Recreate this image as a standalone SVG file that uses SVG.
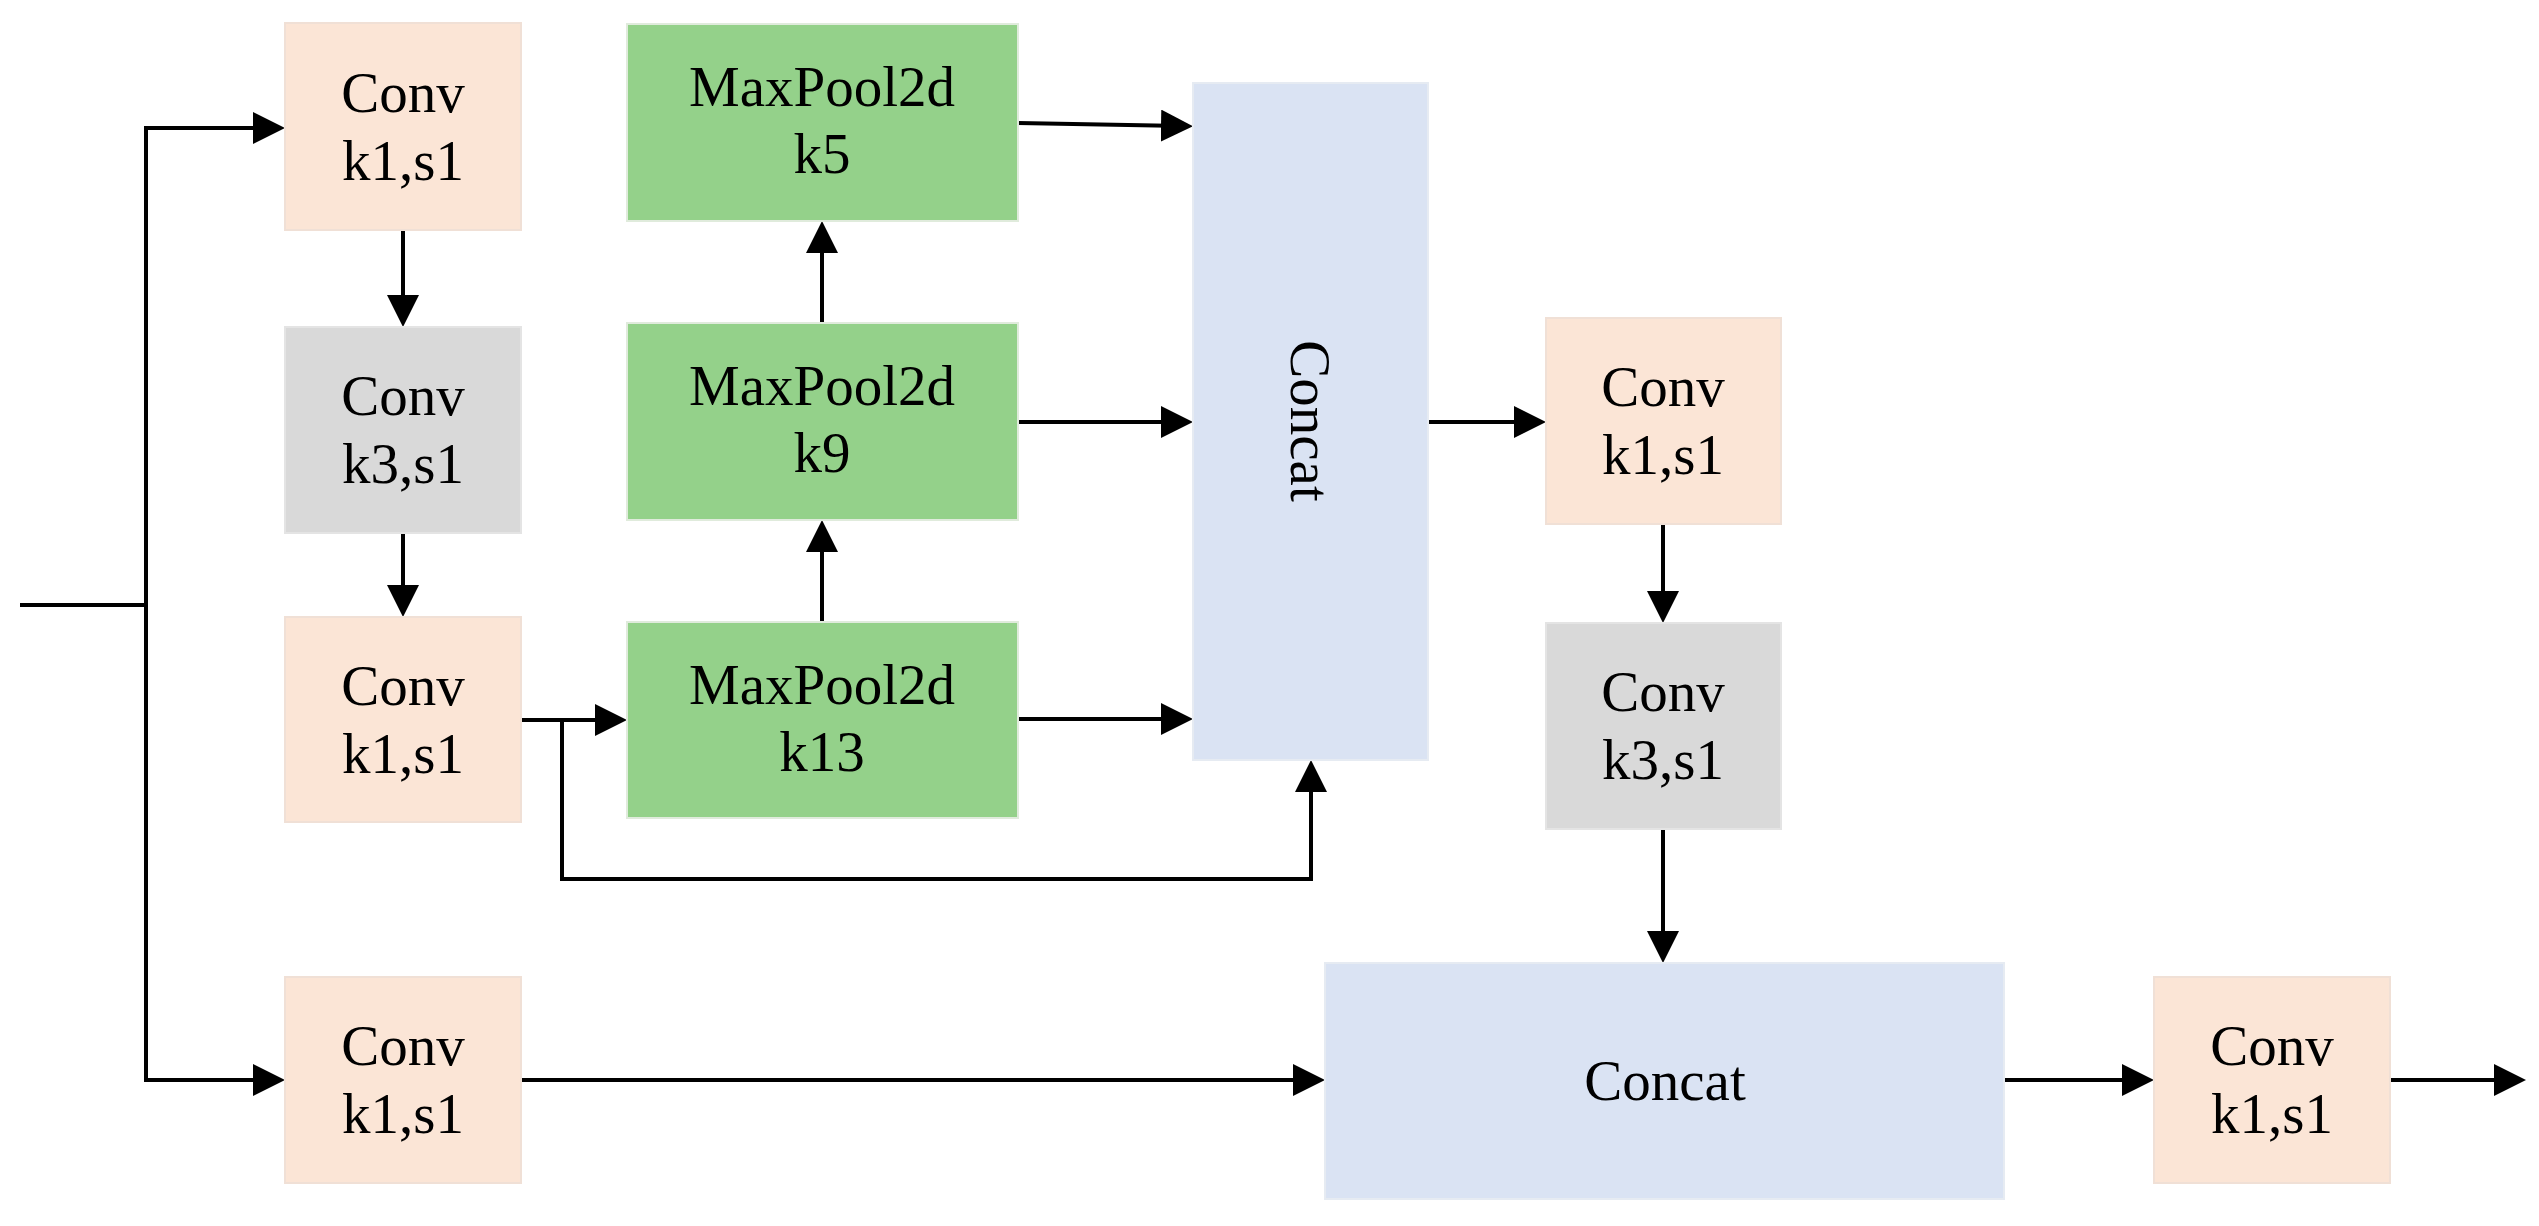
<svg xmlns="http://www.w3.org/2000/svg" width="2539" height="1226" viewBox="0 0 2539 1226">
<defs>
<style>
.conv{fill:#FBE5D6;stroke:#F0E0D6;stroke-width:2}
.conv3{fill:#D9D9D9;stroke:#E4E4E4;stroke-width:2}
.pool{fill:#94D18A;stroke:#E0EBDC;stroke-width:2}
.cat{fill:#DAE3F3;stroke:#E6EBF2;stroke-width:2}
.t{font-family:"Liberation Serif","Times New Roman",serif;font-size:57px;fill:#000;text-anchor:middle}
.c{fill:none;stroke:#000;stroke-width:4}
.a{marker-end:url(#ah)}
</style>
<marker id="ah" markerUnits="userSpaceOnUse" markerWidth="34" markerHeight="34" refX="22" refY="16" orient="auto" viewBox="0 0 34 34">
<path d="M0,0 L32,16 L0,32 Z" fill="#000"/>
</marker>
</defs>
<rect width="2539" height="1226" fill="#fff"/>
<g id="connectors">
<path class="c" d="M20,605 H146"/>
<path class="c" d="M146,126 V1082"/>
<path class="c a" d="M144,128 H275"/>
<path class="c a" d="M144,1080 H275"/>
<path class="c a" d="M403,230 V317"/>
<path class="c a" d="M403,533 V607"/>
<path class="c a" d="M521,720 H617"/>
<path class="c a" d="M562,720 V879 H1311 V770"/>
<path class="c a" d="M822,622 V530"/>
<path class="c a" d="M822,323 V231"/>
<path class="c a" d="M1018,123 L1183,126"/>
<path class="c a" d="M1018,422 H1183"/>
<path class="c a" d="M1018,719 H1183"/>
<path class="c a" d="M1428,422 H1536"/>
<path class="c a" d="M1663,524 V613"/>
<path class="c a" d="M1663,829 V953"/>
<path class="c a" d="M521,1080 H1315"/>
<path class="c a" d="M2004,1080 H2144"/>
<path class="c a" d="M2390,1080 H2516"/>
</g>
<g id="conv1"><rect class="conv" x="285" y="23" width="236" height="207"/><text class="t" x="403" y="112">Conv</text><text class="t" x="403" y="180">k1,s1</text></g>
<g id="conv2"><rect class="conv3" x="285" y="327" width="236" height="206"/><text class="t" x="403" y="415">Conv</text><text class="t" x="403" y="483">k3,s1</text></g>
<g id="conv3"><rect class="conv" x="285" y="617" width="236" height="205"/><text class="t" x="403" y="705">Conv</text><text class="t" x="403" y="773">k1,s1</text></g>
<g id="conv4"><rect class="conv" x="285" y="977" width="236" height="206"/><text class="t" x="403" y="1065">Conv</text><text class="t" x="403" y="1133">k1,s1</text></g>
<g id="pool5"><rect class="pool" x="627" y="24" width="391" height="197"/><text class="t" x="822" y="106">MaxPool2d</text><text class="t" x="822" y="173">k5</text></g>
<g id="pool9"><rect class="pool" x="627" y="323" width="391" height="197"/><text class="t" x="822" y="405">MaxPool2d</text><text class="t" x="822" y="472">k9</text></g>
<g id="pool13"><rect class="pool" x="627" y="622" width="391" height="196"/><text class="t" x="822" y="704">MaxPool2d</text><text class="t" x="822" y="771">k13</text></g>
<g id="concat1"><rect class="cat" x="1193" y="83" width="235" height="677"/><text class="t" transform="translate(1291,421) rotate(90)">Concat</text></g>
<g id="conv5"><rect class="conv" x="1546" y="318" width="235" height="206"/><text class="t" x="1663" y="406">Conv</text><text class="t" x="1663" y="474">k1,s1</text></g>
<g id="conv6"><rect class="conv3" x="1546" y="623" width="235" height="206"/><text class="t" x="1663" y="711">Conv</text><text class="t" x="1663" y="779">k3,s1</text></g>
<g id="concat2"><rect class="cat" x="1325" y="963" width="679" height="236"/><text class="t" x="1665" y="1100">Concat</text></g>
<g id="conv7"><rect class="conv" x="2154" y="977" width="236" height="206"/><text class="t" x="2272" y="1065">Conv</text><text class="t" x="2272" y="1133">k1,s1</text></g>
</svg>
